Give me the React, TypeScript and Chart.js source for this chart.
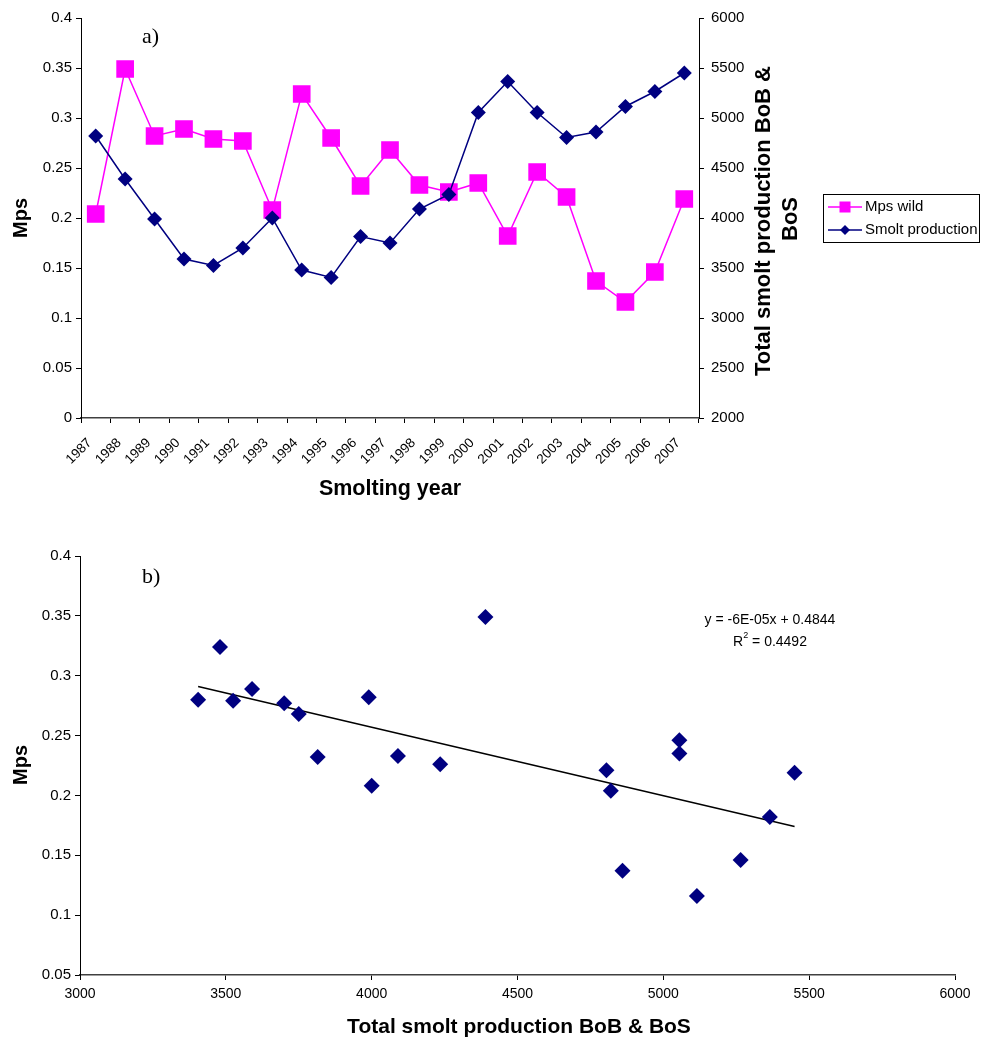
import React, { useEffect, useRef } from "react";
import { Chart, registerables } from "chart.js";

Chart.register(...registerables);

// ---------------- data ----------------
const years = [
  "1987", "1988", "1989", "1990", "1991", "1992", "1993", "1994", "1995", "1996", "1997",
  "1998", "1999", "2000", "2001", "2002", "2003", "2004", "2005", "2006", "2007",
];
const mpsWild = [
  0.204, 0.349, 0.282, 0.289, 0.279, 0.277, 0.208, 0.324, 0.28, 0.232, 0.268,
  0.233, 0.226, 0.235, 0.182, 0.246, 0.221, 0.137, 0.116, 0.146, 0.219,
];
const smoltProduction = [
  4820, 4390, 3990, 3590, 3525, 3700, 4000, 3480, 3405, 3815, 3750,
  4090, 4235, 5055, 5365, 5055, 4805, 4860, 5115, 5265, 5450,
];
const seriesNames = ["Mps wild", "Smolt production"];
const equationText = "y = -6E-05x + 0.4844";
const r2Value = "0.4492";

const FONT = '"Liberation Sans", Arial, sans-serif';
const SERIF = '"Liberation Serif", "Times New Roman", serif';
const MAGENTA = "#FF00FF";
const NAVY = "#000080";

const fmt = (v: number) => String(Number(Number(v).toFixed(2)));
const fmtInt = (v: number) => String(Math.round(Number(v)));

// least squares trend line
function regression(xs: number[], ys: number[]) {
  const n = xs.length;
  const mx = xs.reduce((a, b) => a + b, 0) / n;
  const my = ys.reduce((a, b) => a + b, 0) / n;
  let sxy = 0, sxx = 0;
  for (let i = 0; i < n; i++) {
    sxy += (xs[i] - mx) * (ys[i] - my);
    sxx += (xs[i] - mx) ** 2;
  }
  const slope = sxy / sxx;
  return { slope, intercept: my - slope * mx };
}

function drawRotated(ctx: CanvasRenderingContext2D, text: string, x: number, y: number) {
  ctx.save();
  ctx.translate(x, y);
  ctx.rotate(-Math.PI / 2);
  ctx.textAlign = "center";
  ctx.textBaseline = "middle";
  ctx.fillText(text, 0, 0);
  ctx.restore();
}

const panelAPlugin = {
  id: "panelA",
  afterDraw(chart: any) {
    const ctx: CanvasRenderingContext2D = chart.ctx;
    ctx.save();
    ctx.fillStyle = "#000";
    ctx.font = `22px ${SERIF}`;
    ctx.textAlign = "left";
    ctx.textBaseline = "middle";
    ctx.fillText("a)", 142, 37);

    ctx.font = `bold 20px ${FONT}`;
    drawRotated(ctx, "Mps", 21, 218);
    ctx.font = `bold 21.5px ${FONT}`;
    ctx.textAlign = "center";
    ctx.textBaseline = "middle";
    ctx.fillText("Smolting year", 390, 489);
    ctx.font = `bold 22px ${FONT}`;
    drawRotated(ctx, "Total smolt production BoB &", 764, 221);
    drawRotated(ctx, "BoS", 791, 219);

    // legend
    ctx.strokeStyle = "#000";
    ctx.lineWidth = 1;
    ctx.strokeRect(823.5, 194.5, 156, 48);
    // entry 1
    ctx.strokeStyle = MAGENTA;
    ctx.lineWidth = 1.5;
    ctx.beginPath();
    ctx.moveTo(828, 207);
    ctx.lineTo(862, 207);
    ctx.stroke();
    ctx.fillStyle = MAGENTA;
    ctx.fillRect(845 - 5.5, 207 - 5.5, 11, 11);
    // entry 2
    ctx.strokeStyle = NAVY;
    ctx.beginPath();
    ctx.moveTo(828, 230);
    ctx.lineTo(862, 230);
    ctx.stroke();
    ctx.fillStyle = NAVY;
    ctx.beginPath();
    ctx.moveTo(845, 225);
    ctx.lineTo(850, 230);
    ctx.lineTo(845, 235);
    ctx.lineTo(840, 230);
    ctx.closePath();
    ctx.fill();
    ctx.fillStyle = "#000";
    ctx.font = `15px ${FONT}`;
    ctx.textAlign = "left";
    ctx.fillText(seriesNames[0], 865, 207);
    ctx.fillText(seriesNames[1], 865, 230);
    ctx.restore();
  },
};

const panelBPlugin = {
  id: "panelB",
  afterDraw(chart: any) {
    const ctx: CanvasRenderingContext2D = chart.ctx;
    ctx.save();
    ctx.fillStyle = "#000";
    ctx.font = `22px ${SERIF}`;
    ctx.textAlign = "left";
    ctx.textBaseline = "middle";
    ctx.fillText("b)", 142, 67);

    ctx.font = `bold 20px ${FONT}`;
    drawRotated(ctx, "Mps", 21, 255);
    ctx.font = `bold 21px ${FONT}`;
    ctx.textAlign = "center";
    ctx.textBaseline = "middle";
    ctx.fillText("Total smolt production BoB & BoS", 519, 517);

    // trendline label
    ctx.font = `14px ${FONT}`;
    ctx.fillText(equationText, 770, 110);
    const rest = " = " + r2Value;
    const wR = ctx.measureText("R").width;
    ctx.font = `9px ${FONT}`;
    const w2 = ctx.measureText("2").width;
    ctx.font = `14px ${FONT}`;
    const wRest = ctx.measureText(rest).width;
    const total = wR + w2 + wRest;
    let x = 770 - total / 2;
    ctx.textAlign = "left";
    ctx.fillText("R", x, 132);
    x += wR;
    ctx.font = `9px ${FONT}`;
    ctx.fillText("2", x, 126);
    x += w2;
    ctx.font = `14px ${FONT}`;
    ctx.fillText(rest, x, 132);
    ctx.restore();
  },
};

export default function App() {
  const refA = useRef<HTMLCanvasElement>(null);
  const refB = useRef<HTMLCanvasElement>(null);

  useEffect(() => {
    const tickFont = { family: FONT, size: 15 };
    const chartA = new Chart(refA.current!, {
      type: "line",
      data: {
        labels: years,
        datasets: [
          {
            label: seriesNames[0],
            data: mpsWild,
            yAxisID: "y",
            borderColor: MAGENTA,
            backgroundColor: MAGENTA,
            borderWidth: 1.5,
            pointStyle: "rect",
            pointRadius: 12.5,
            pointBorderWidth: 0,
            pointBackgroundColor: MAGENTA,
            pointBorderColor: MAGENTA,
            tension: 0,
            order: 1,
          },
          {
            label: seriesNames[1],
            data: smoltProduction,
            yAxisID: "y1",
            borderColor: NAVY,
            backgroundColor: NAVY,
            borderWidth: 1.5,
            pointStyle: "rectRot",
            pointRadius: 7.5,
            pointBorderWidth: 0,
            pointBackgroundColor: NAVY,
            pointBorderColor: NAVY,
            tension: 0,
            order: 0,
          },
        ],
      },
      options: {
        responsive: false,
        maintainAspectRatio: false,
        animation: false,
        events: [],
        layout: { padding: { top: 18, left: 0, right: 0, bottom: 0 } },
        plugins: { legend: { display: false }, tooltip: { enabled: false } },
        scales: {
          x: {
            type: "category",
            offset: true,
            grid: { offset: true, drawOnChartArea: false, drawTicks: true, tickLength: 5, color: "#000" },
            border: { color: "#404040", width: 1.5 },
            ticks: {
              autoSkip: false,
              minRotation: 45,
              maxRotation: 45,
              color: "#000",
              padding: 12,
              labelOffset: -6,
              font: { family: FONT, size: 13.5 },
            },
            afterFit: (s: any) => {
              s.height = 92;
            },
          },
          y: {
            position: "left",
            min: 0,
            max: 0.4,
            grid: { drawOnChartArea: false, drawTicks: true, tickLength: 5, color: "#000" },
            border: { color: "#000", width: 1 },
            ticks: { stepSize: 0.05, color: "#000", padding: 4, font: tickFont, callback: (v: any) => fmt(v) },
            afterFit: (s: any) => {
              s.width = 81;
            },
          },
          y1: {
            position: "right",
            min: 2000,
            max: 6000,
            grid: { drawOnChartArea: false, drawTicks: true, tickLength: 5, color: "#000" },
            border: { color: "#000", width: 1 },
            ticks: { stepSize: 500, color: "#000", padding: 7, font: tickFont, callback: (v: any) => fmtInt(v) },
            afterFit: (s: any) => {
              s.width = 283;
            },
          },
        },
      },
      plugins: [panelAPlugin],
    } as any);

    const pts = smoltProduction.map((x, i) => ({ x, y: mpsWild[i] }));
    const { slope, intercept } = regression(smoltProduction, mpsWild);
    const xMin = Math.min(...smoltProduction);
    const xMax = Math.max(...smoltProduction);
    const trend = [
      { x: xMin, y: intercept + slope * xMin },
      { x: xMax, y: intercept + slope * xMax },
    ];

    const chartB = new Chart(refB.current!, {
      type: "scatter",
      data: {
        datasets: [
          {
            type: "line",
            label: "trend",
            data: trend,
            borderColor: "#000",
            borderWidth: 1.5,
            pointRadius: 0,
            showLine: true,
            order: 1,
          },
          {
            label: "Mps",
            data: pts,
            pointStyle: "rectRot",
            pointRadius: 8,
            pointBorderWidth: 0,
            pointBackgroundColor: NAVY,
            pointBorderColor: NAVY,
            backgroundColor: NAVY,
            order: 0,
          },
        ],
      },
      options: {
        responsive: false,
        maintainAspectRatio: false,
        animation: false,
        events: [],
        layout: { padding: { top: 46, left: 0, right: 27, bottom: 0 } },
        plugins: { legend: { display: false }, tooltip: { enabled: false } },
        scales: {
          x: {
            type: "linear",
            min: 3000,
            max: 6000,
            grid: { drawOnChartArea: false, drawTicks: true, tickLength: 5, color: "#000" },
            border: { color: "#404040", width: 1.5 },
            ticks: { stepSize: 500, color: "#000", padding: 6, font: { family: FONT, size: 14 }, callback: (v: any) => fmtInt(v) },
            afterFit: (s: any) => {
              s.height = 67;
            },
          },
          y: {
            min: 0.05,
            max: 0.4,
            grid: { drawOnChartArea: false, drawTicks: true, tickLength: 5, color: "#000" },
            border: { color: "#000", width: 1 },
            ticks: { stepSize: 0.05, color: "#000", padding: 4, font: tickFont, callback: (v: any) => fmt(v) },
            afterFit: (s: any) => {
              s.width = 80;
            },
          },
        },
      },
      plugins: [panelBPlugin],
    } as any);

    return () => {
      chartA.destroy();
      chartB.destroy();
    };
  }, []);

  return (
    <div style={{ position: "absolute", left: 0, top: 0, width: 982, height: 1042, background: "#fff" }}>
      <canvas ref={refA} width={982} height={510} style={{ position: "absolute", left: 0, top: 0, display: "block" }} />
      <canvas ref={refB} width={982} height={532} style={{ position: "absolute", left: 0, top: 510, display: "block" }} />
    </div>
  );
}
